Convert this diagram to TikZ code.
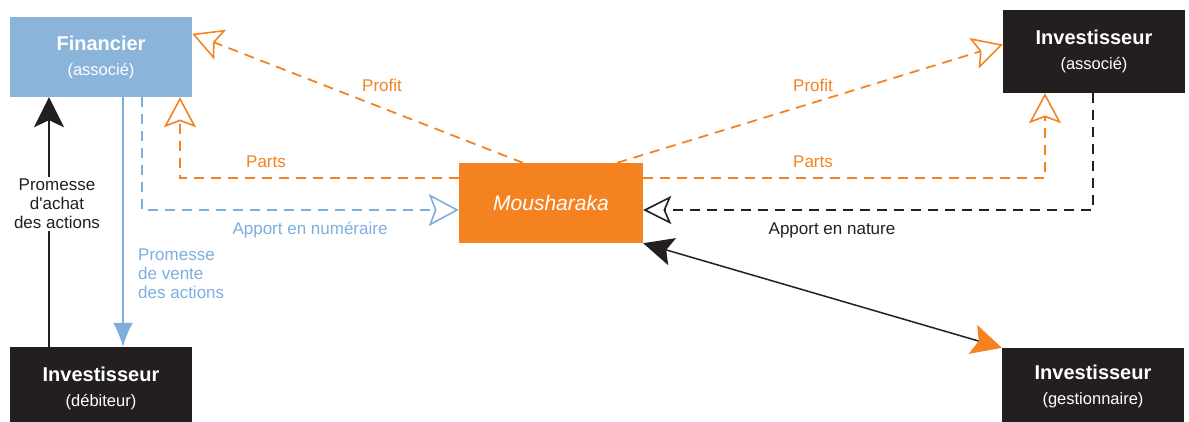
\documentclass[tikz,border=0pt]{standalone}
\usepackage{fontspec}
\setmainfont{Liberation Sans}
\usetikzlibrary{arrows.meta,calc}
\definecolor{org}{HTML}{F58220}
\definecolor{lblue}{HTML}{8AB4DA}
\definecolor{lineblue}{HTML}{7EAEDB}
\definecolor{dark}{HTML}{231F20}
\begin{document}
\begin{tikzpicture}[x=1pt,y=-1pt,
  box/.style={minimum width=182pt, inner sep=0pt, text=white, align=center,
    font=\fontsize{20}{25}\selectfont\bfseries},
  finbox/.style={box, fill=lblue, minimum height=80pt},
  darkbox/.style={box, fill=dark},
  moubox/.style={minimum width=184pt, minimum height=80pt, inner sep=0pt, fill=org,
    text=white, font=\fontsize{21}{25}\selectfont\itshape},
  lbl/.style={font=\fontsize{17}{19}\selectfont, inner sep=1pt},
  dsh/.style={line width=1.8pt, dash pattern=on 10pt off 7pt},
  openarr/.style={-{Stealth[open, length=30pt, width=32pt, inset=6pt, line width=1.6pt]}},
  openarrb/.style={-{Stealth[open, length=28pt, width=28pt, inset=6pt, line width=1.6pt]}},
]
\useasboundingbox (0,0) rectangle (1189,421);

% boxes
\node[finbox] (fin) at (101,57) {Financier\\{\fontsize{16.5}{20}\selectfont\mdseries (associé)}};
\node[darkbox, minimum height=83pt] (ia) at (1094,51.5) {Investisseur\\{\fontsize{16.5}{20}\selectfont\mdseries (associé)}};
\node[darkbox, minimum height=82pt] (deb) at (101,388) {Investisseur\\{\fontsize{16.5}{20}\selectfont\mdseries (débiteur)}};
\node[darkbox, minimum height=76pt] (ges) at (1093,386) {Investisseur\\{\fontsize{16.5}{20}\selectfont\mdseries (gestionnaire)}};
\node[moubox] (mou) at (551,203) {Mousharaka};

% Profit
\draw[org, dsh, openarr] ([xshift=-28pt]mou.north) -- ([yshift=-17pt]fin.north east);
\draw[org, dsh, openarr] ([xshift=-26pt]mou.north east) -- ([yshift=7pt]ia.west);
\node[lbl, text=org] (p1) at (382,85) {Profit};
\node[lbl, text=org] (p2) at (813,85) {Profit};

% Parts
\draw[org, dsh, openarr] ([yshift=-15pt]mou.north west) -| ([xshift=79pt]fin.south);
\draw[org, dsh, openarr] ([yshift=-15pt]mou.north east) -| ([xshift=-49pt]ia.south);
\node[lbl, text=org] (pa1) at (266,162) {Parts};
\node[lbl, text=org] (pa2) at (813,162) {Parts};

% Apports
\draw[lineblue, dsh, openarr] ([xshift=41pt]fin.south) |- ([yshift=-7pt]mou.west);
\node[lbl, text=lineblue] (an) at (310,230) {Apport en numéraire};
\draw[dark, dsh, openarrb] ([xshift=-1pt]ia.south) |- ([yshift=-7pt]mou.east);
\node[lbl, text=dark] (at) at (832,230) {Apport en nature};

% Promesses
\draw[dark, line width=1.5pt, -{Stealth[length=30pt, width=30pt, inset=7pt]}] ([xshift=-52pt]deb.north) -- ([xshift=-52pt]fin.south);
\node[lbl, text=dark, fill=white, align=center, font=\fontsize{17}{19}\selectfont, inner sep=2pt] (pach) at (57,204) {Promesse\\d\textquotesingle achat\\des actions};
\draw[lineblue, line width=1.8pt, -{Latex[length=24pt, width=20pt]}] ([xshift=22pt]fin.south) -- ([xshift=22pt]deb.north);
\node[lbl, text=lineblue, align=left, anchor=west] (pven) at (137,274) {Promesse\\de vente\\des actions};

% Mousharaka <-> gestionnaire
\draw[dark, line width=1.5pt, {Stealth[length=30pt, width=28pt, inset=6pt, color=dark]}-{Stealth[length=30pt, width=30pt, inset=6pt, color=org]}] (mou.south east) -- (ges.north west);
\end{tikzpicture}
\end{document}
